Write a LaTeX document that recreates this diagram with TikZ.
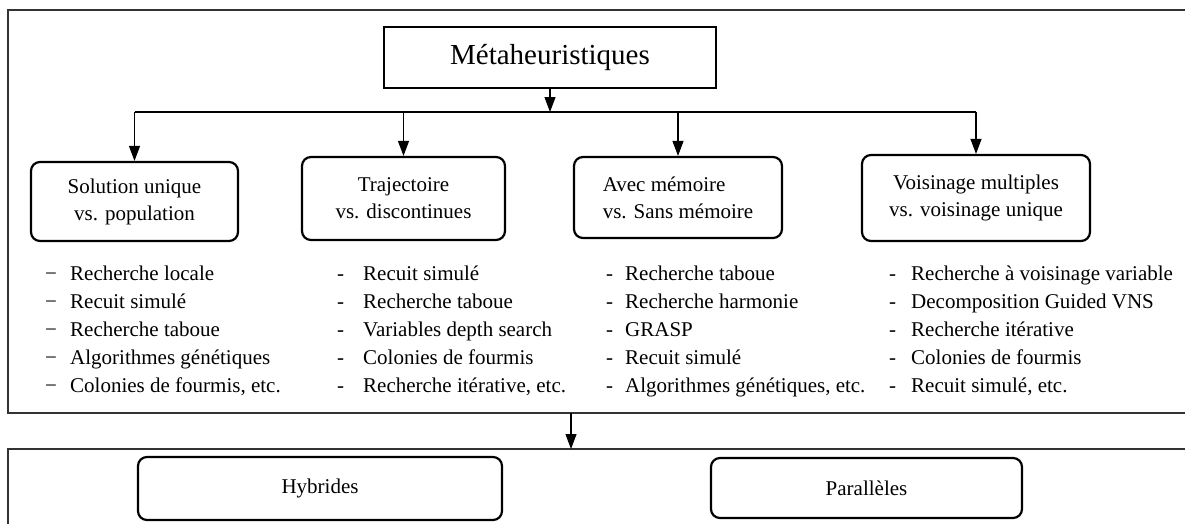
\documentclass[tikz,border=0pt]{standalone}
\usepackage{fontspec}
\setmainfont{Liberation Serif}
\usetikzlibrary{arrows.meta}

\begin{document}
\begin{tikzpicture}[x=1pt, y=-1pt,
    box/.style={draw, line width=2.2pt, rounded corners=9pt, align=center, inner sep=0pt, font=\fontsize{21}{27}\selectfont},
    frame/.style={draw=black!80, line width=1.4pt},
    arrow/.style={draw, line width=1.1pt, -{Triangle[width=11pt,length=15pt]}},
    liste/.style={anchor=north west, align=left, inner sep=0pt, font=\fontsize{21}{28}\selectfont}]
    \useasboundingbox (0,0) rectangle (1185,523);

    % Cadres (ouverts a droite)
    \draw[frame] (1190,10) -- (8,10) -- (8,413) -- (1190,413);
    \draw[frame] (1190,449) -- (8,449) -- (8,530);

    % Titre
    \node[draw, line width=1.3pt, minimum width=332pt, minimum height=61pt, font=\fontsize{29}{35}\selectfont] (meta) at (550,57.5) {Métaheuristiques};

    % Les quatre classifications
    \node[box, minimum width=207pt, minimum height=79pt] (sol) at (134.5,201.5) {Solution unique\\vs. population};
    \node[box, minimum width=203pt, minimum height=83pt] (traj) at (403.5,198.5) {Trajectoire\\vs. discontinues};
    \node[box, align=left, minimum width=208pt, minimum height=81pt] (mem) at (678,197.5) {Avec mémoire\\vs. Sans mémoire};
    \node[box, minimum width=228pt, minimum height=86pt] (voi) at (976,198) {Voisinage multiples\\vs. voisinage unique};

    % Branchements
    \coordinate (hub) at (550,112);
    \draw[arrow] (meta.south) -- (hub);
    \draw[line width=1.1pt] (sol.north |- hub) -- (voi.north |- hub);
    \draw[arrow] (sol.north |- hub) -- (sol.north);
    \draw[arrow] (traj.north |- hub) -- (traj.north);
    \draw[arrow] (mem.north |- hub) -- (mem.north);
    \draw[arrow] (voi.north |- hub) -- (voi.north);

    % Exemples sous chaque classe
    \node[liste] (ex1) at (45,260.4) {\strut\makebox[25pt][l]{−}Recherche locale\\
        \makebox[25pt][l]{−}Recuit simulé\\
        \makebox[25pt][l]{−}Recherche taboue\\
        \makebox[25pt][l]{−}Algorithmes génétiques\\
        \makebox[25pt][l]{−}Colonies de fourmis, etc.};
    \node[liste] (ex2) at (337,260.4) {\strut\makebox[26pt][l]{-}Recuit simulé\\
        \makebox[26pt][l]{-}Recherche taboue\\
        \makebox[26pt][l]{-}Variables depth search\\
        \makebox[26pt][l]{-}Colonies de fourmis\\
        \makebox[26pt][l]{-}Recherche itérative, etc.};
    \node[liste] (ex3) at (606,260.4) {\strut\makebox[19pt][l]{-}Recherche taboue\\
        \makebox[19pt][l]{-}Recherche harmonie\\
        \makebox[19pt][l]{-}GRASP\\
        \makebox[19pt][l]{-}Recuit simulé\\
        \makebox[19pt][l]{-}Algorithmes génétiques, etc.};
    \node[liste] (ex4) at (889,260.4) {\strut\makebox[22pt][l]{-}Recherche à voisinage variable\\
        \makebox[22pt][l]{-}Decomposition Guided VNS\\
        \makebox[22pt][l]{-}Recherche itérative\\
        \makebox[22pt][l]{-}Colonies de fourmis\\
        \makebox[22pt][l]{-}Recuit simulé, etc.};

    % Passage vers hybrides / paralleles
    \coordinate (haut) at (571,413);
    \coordinate (bas) at (571,449);
    \draw[arrow] (haut) -- (bas);

    \node[box, minimum width=364pt, minimum height=63pt] (hyb) at (320,488.5) {Hybrides};
    \node[box, minimum width=311pt, minimum height=60pt] (par) at (866.5,488) {Parallèles};

\end{tikzpicture}
\end{document}
